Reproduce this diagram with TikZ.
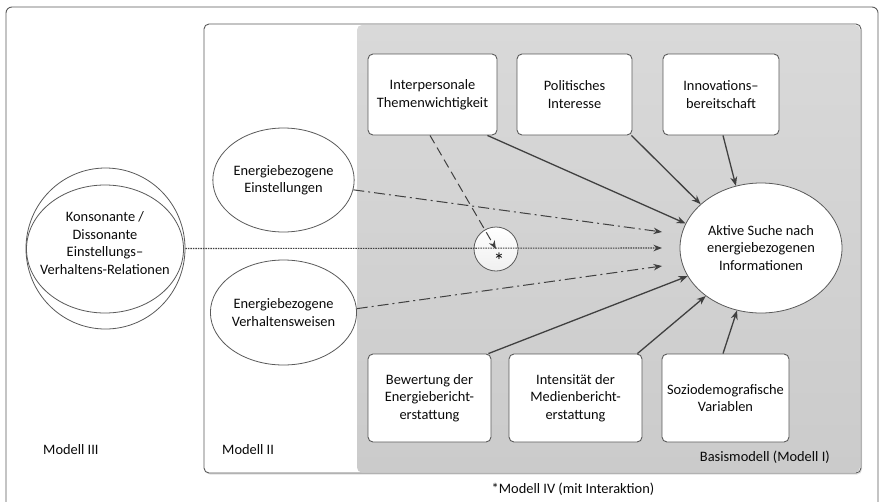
\documentclass[tikz,border=0pt]{standalone}
\usepackage{fontspec}
\setmainfont{Carlito}
\usetikzlibrary{shapes.geometric,arrows.meta,calc,shadows}
\definecolor{linec}{RGB}{64,64,64}
\definecolor{framec}{RGB}{90,90,90}
\definecolor{graytop}{RGB}{217,217,217}
\definecolor{graybot}{RGB}{203,203,203}
\definecolor{textc}{RGB}{10,10,10}
\tikzset{
  every node/.style={font=\fontsize{14.4}{17.5}\selectfont, text=textc},
  boxnode/.style={draw=framec, line width=0.9pt, fill=white, rounded corners=5pt, align=center, inner sep=0pt},
  ellnode/.style={draw=framec, line width=0.8pt, fill=white, ellipse, align=center, inner sep=0pt},
  arr/.style={draw=linec, line width=1.3pt, -{Stealth[length=9pt,width=7pt]}},
  dasharr/.style={draw=linec, line width=1pt, dash pattern=on 11pt off 4pt on 2pt off 4pt, -{Stealth[length=8.5pt,width=6.5pt]}},
  dotarr/.style={draw=linec, line width=1.1pt, dash pattern=on 1.5pt off 1pt, -{Stealth[length=8.5pt,width=6.5pt]}},
  dashedarr/.style={draw=linec, line width=1pt, dash pattern=on 9pt off 5pt, -{Stealth[length=8.5pt,width=6.5pt]}},
  plain/.style={inner sep=0pt, align=center}
}
\begin{document}
\begin{tikzpicture}[x=1pt,y=-1pt]
\useasboundingbox (0,0) rectangle (880,501);
\clip (0,0) rectangle (880,501);
\fill[white] (0,0) rectangle (880,501);
% outer frame (Modell III)
\draw[framec, line width=0.9pt, rounded corners=6pt] (6,530) -- (6,7) -- (878,7) -- (878,530);
% Modell II frame
\draw[framec, line width=0.9pt, fill=white, rounded corners=5pt, drop shadow={opacity=0.25, shadow xshift=1pt, shadow yshift=-1.5pt}] (204,24) rectangle (861,473);
% Basismodell gray area
\shade[top color=graytop, bottom color=graybot, rounded corners=5pt] (357,25) rectangle (860,472.5);

% labels
\node[plain, anchor=west] (m3) at (43,450) {Modell III};
\node[plain, anchor=west] (m2) at (222,450) {Modell II};
\node[plain, anchor=east] (m1) at (830,457) {Basismodell (Modell I)};
\node[plain] (m4) at (573,489) {*Modell IV (mit Interaktion)};

% Konsonante ellipses
\node[ellnode, minimum width=159pt, minimum height=161pt] (K) at (105.5,248.5) {};
\node[ellnode, fill=none, minimum width=157pt, minimum height=128pt] (Ki) at (105,249) {};
\node[plain] (Kt) at (105,243) {Konsonante /\\Dissonante\\Einstellungs–\\Verhaltens-Relationen};

% Modell II ellipses
\node[ellnode, minimum width=129pt, minimum height=104pt] (eE) at (283.5,180) {Energiebezogene\\Einstellungen};
\node[ellnode, minimum width=129pt, minimum height=105pt] (eV) at (283.5,312.5) {Energiebezogene\\Verhaltensweisen};

% target ellipse
\node[ellnode, minimum width=162pt, minimum height=130pt] (A) at (761,248) {Aktive Suche nach\\energiebezogenen\\Informationen};

% boxes top
\node[boxnode, minimum width=129pt, minimum height=81pt] (ip) at (432.5,94.5) {Interpersonale\\Themenwichtigkeit};
\node[boxnode, minimum width=115pt, minimum height=81pt] (pi) at (574.5,94.5) {Politisches\\Interesse};
\node[boxnode, minimum width=116pt, minimum height=81pt] (inn) at (721,94.5) {Innovations–\\bereitschaft};
% boxes bottom
\node[boxnode, minimum width=123pt, minimum height=88pt] (bew) at (429.5,398) {Bewertung der\\Energiebericht-\\erstattung};
\node[boxnode, minimum width=133pt, minimum height=88pt] (int) at (575.5,398) {Intensität der\\Medienbericht-\\erstattung};
\node[boxnode, minimum width=127pt, minimum height=88pt] (soz) at (725.5,398) {Soziodemografische\\Variablen};

% interaction circle
\node[circle, draw=framec, line width=0.8pt, top color=white, bottom color=gray!12, minimum size=44pt, inner sep=0pt] (ic) at (496,249) {};
\node[plain, font=\fontsize{22}{22}\selectfont] (star) at (499,261) {*};

% arrow end coordinates
\coordinate (t1) at (662,232);
\coordinate (t2) at (662,248);
\coordinate (t3) at (662,266);

% Modell II / III arrows
\draw[dotarr] (K.east) -- (t2);
\draw[dasharr] (eE.-8) -- (t1);
\draw[dasharr] (eV.3) -- (t3);
\draw[dashedarr] ([xshift=-2.5pt]ip.south) -- (ic.center);

% Basismodell arrows
\draw[arr] ([xshift=-10pt]ip.south east) -- (A.162);
\draw[arr] ([xshift=-1pt]pi.south east) -- (A.144);
\draw[arr] ([xshift=2pt]inn.south) -- (A.112);
\draw[arr] ([xshift=-3pt]bew.north east) -- (A.201);
\draw[arr] ([xshift=-5pt]int.north east) -- (A.221);
\draw[arr] ([xshift=-2.5pt]soz.north) -- (A.249);
\end{tikzpicture}
\end{document}
